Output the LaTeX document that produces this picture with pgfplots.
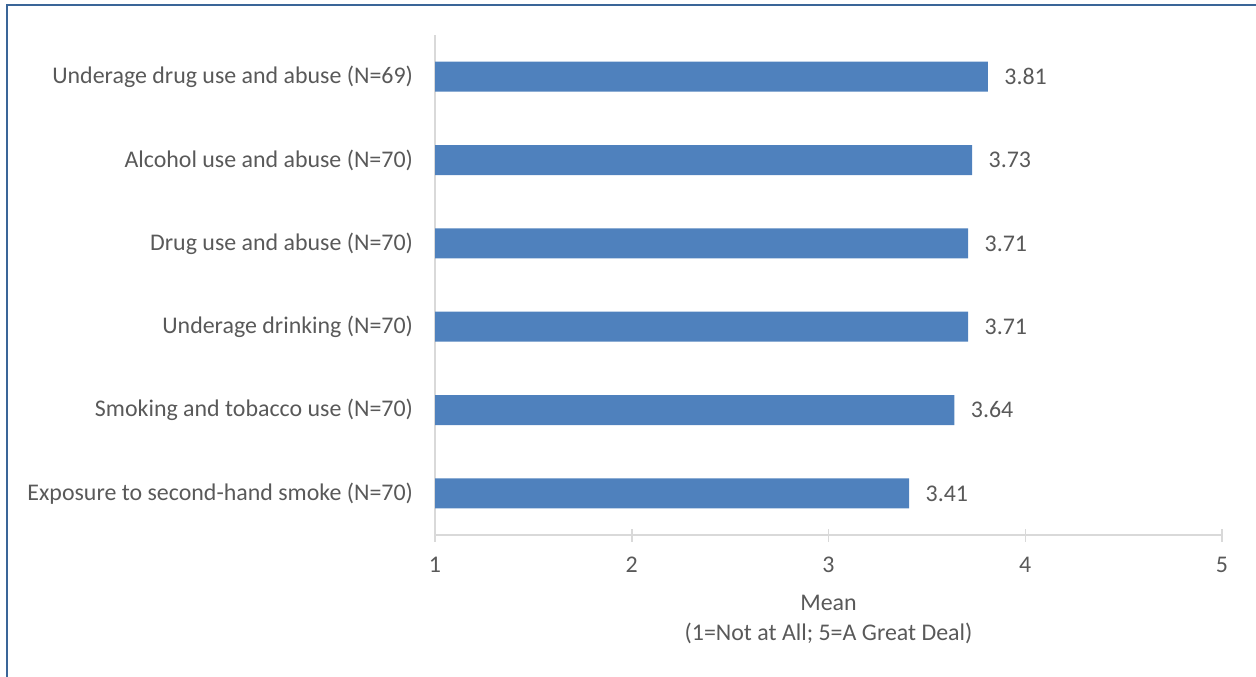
\documentclass[border=0pt]{standalone}
\usepackage{pgfplots}
\pgfplotsset{compat=1.18}
\usepackage{fontspec}
\setmainfont{Carlito}
\definecolor{barblue}{HTML}{4F81BD}
\definecolor{frameblue}{HTML}{3A6598}
\definecolor{txtgray}{HTML}{595959}
\definecolor{axgray}{HTML}{D9D9D9}

\begin{document}
\begin{tikzpicture}
\useasboundingbox (0,0) rectangle (1256bp,-677bp);
% outer frame (open on the right and at the bottom)
\draw[frameblue, line width=2bp] (7bp,-677bp) -- (7bp,-4.5bp) -- (1256bp,-4.5bp);
\begin{axis}[
  at={(435bp,-535bp)}, anchor=south west,
  scale only axis, width=787bp, height=500bp,
  xbar, bar width=30bp,
  xmin=1, xmax=5, ymin=-0.5, ymax=5.5,
  xtick={1,2,3,4,5},
  ytick={0,1,2,3,4,5},
  yticklabels={
    {Exposure to second-hand smoke (N=70)},
    {Smoking and tobacco use (N=70)},
    {Underage drinking (N=70)},
    {Drug use and abuse (N=70)},
    {Alcohol use and abuse (N=70)},
    {Underage drug use and abuse (N=69)}},
  axis x line*=bottom, axis y line*=left,
  axis line style={axgray, line width=1.5bp},
  x tick style={axgray, line width=1.5bp},
  major tick length=13bp, tick align=center,
  ytick style={draw=none},
  /pgf/number format/assume math mode=true,
  tick label style={txtgray, font=\fontsize{24}{28}\selectfont},
  xticklabel style={yshift=-12bp},
  yticklabel style={xshift=-12bp},
  xlabel={Mean\\(1=Not at All; 5=A Great Deal)},
  xlabel style={txtgray, align=center, font=\fontsize{24}{30}\selectfont, yshift=-16bp},
  nodes near coords={\pgfmathprintnumber[fixed,fixed zerofill,precision=2]{\pgfplotspointmeta}},
  point meta=x,
  every node near coord/.append style={txtgray, font=\fontsize{24}{28}\selectfont, anchor=west, xshift=13bp},
  clip=false,
]
\addplot[fill=barblue, draw=none] coordinates {
  (3.41,0) (3.64,1) (3.71,2) (3.71,3) (3.73,4) (3.81,5)
};
\end{axis}
\end{tikzpicture}
\end{document}
